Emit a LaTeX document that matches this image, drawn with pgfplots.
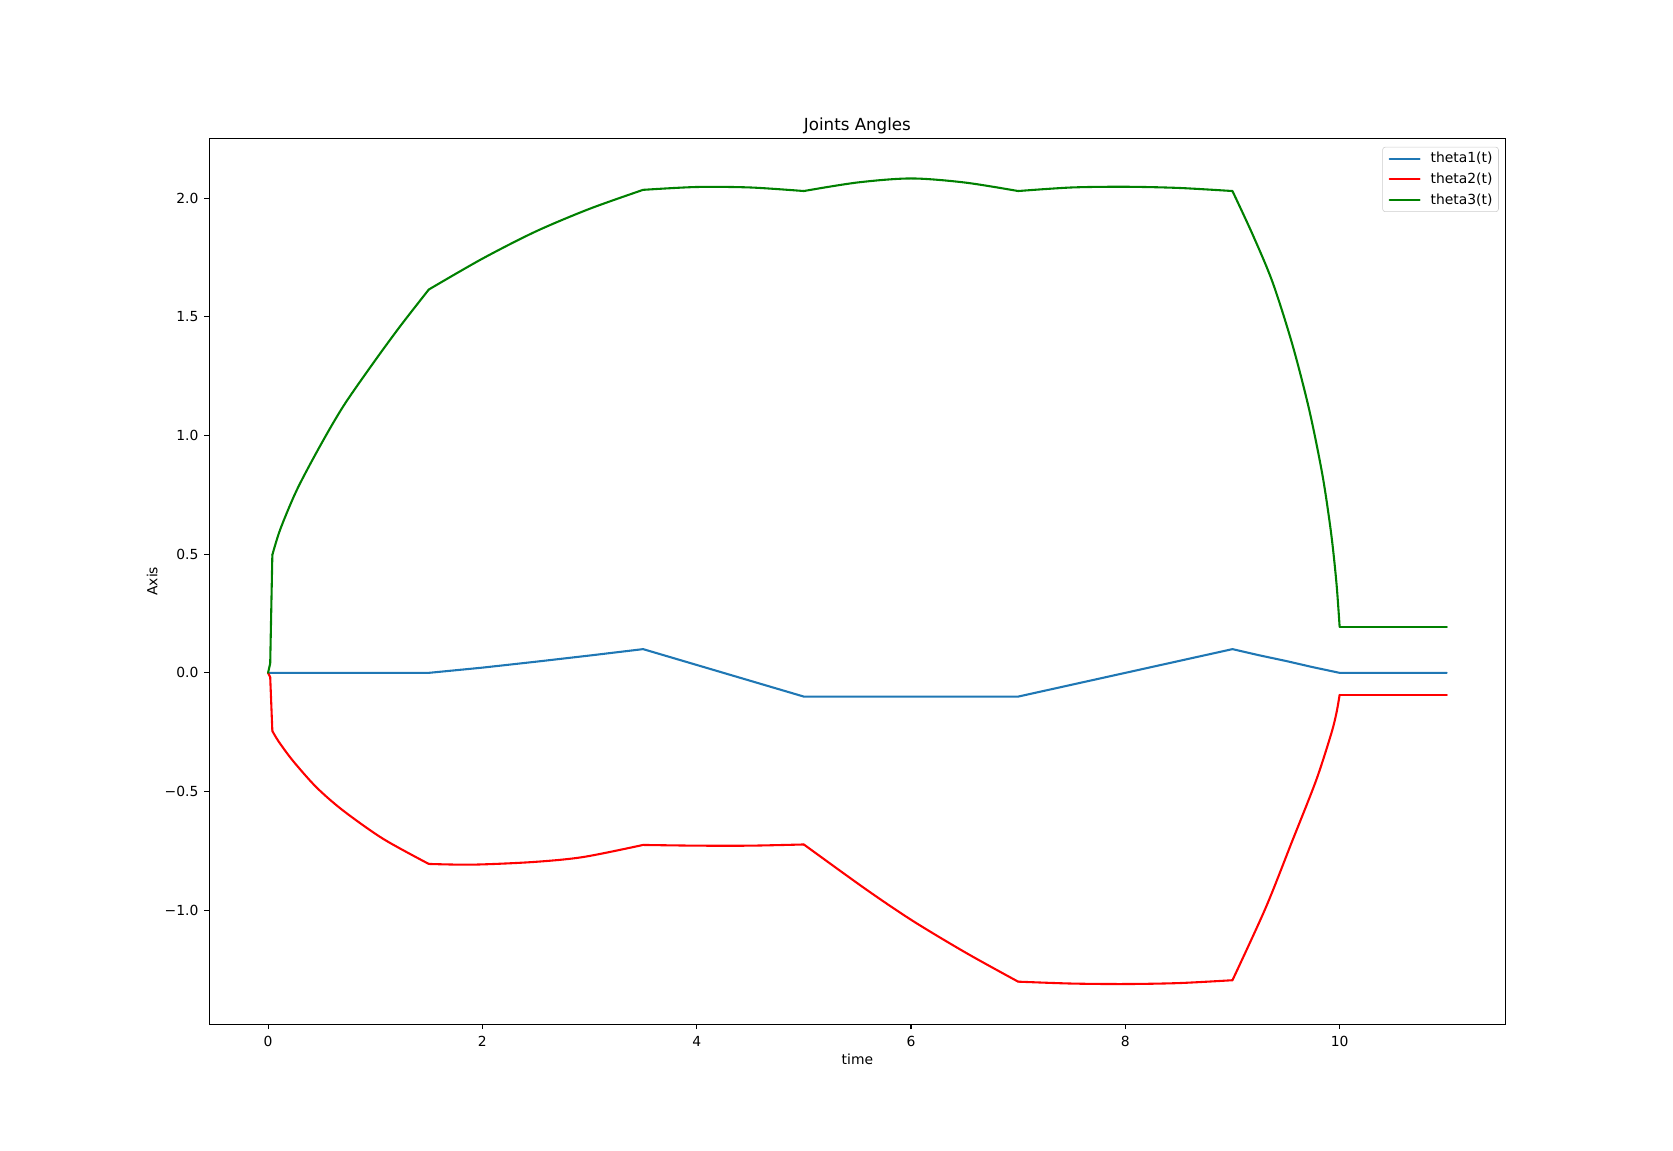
\documentclass[border=0pt]{standalone}
\usepackage{pgfplots}
\pgfplotsset{compat=1.18}
\usepackage{fontspec}
\setmainfont{DejaVu Sans}
\definecolor{tabblue}{HTML}{1F77B4}
\definecolor{mplred}{HTML}{FF0000}
\definecolor{mplgreen}{HTML}{008000}
\begin{document}
\begin{tikzpicture}
\path[use as bounding box] (0,0) rectangle (1204.56pt,828.72pt);
\begin{axis}[
  at={(150.57pt,91.16pt)}, anchor=south west,
  scale only axis, width=933.53pt, height=638.11pt,
  xmin=-0.55, xmax=11.55, ymin=-1.481, ymax=2.253,
  axis line style={line width=0.8pt, black},
  tick align=outside, xtick pos=lower, ytick pos=left,
  major tick length=3.5pt,
  every tick/.style={line width=0.8pt, black},
  xtick={0,2,4,6,8,10},
  xticklabels={0,2,4,6,8,10},
  ytick={-1,-0.5,0,0.5,1,1.5,2},
  yticklabels={−1.0,−0.5,0.0,0.5,1.0,1.5,2.0},
  xticklabel style={anchor=base, yshift=-12.6pt, font=\fontsize{10}{12}\selectfont},
  yticklabel style={anchor=east, inner sep=0pt, xshift=-4pt, font=\fontsize{10}{12}\selectfont},
  title={Joints Angles},
  every axis title/.style={at={(axis description cs:0.5,1)}, anchor=base, yshift=5.5pt, font=\fontsize{12}{14.4}\selectfont},
  xlabel={time},
  every axis x label/.style={at={(axis description cs:0.5,0)}, anchor=base, yshift=-29pt, font=\fontsize{10}{12}\selectfont},
  ylabel={Axis},
  every axis y label/.style={at={(axis description cs:0,0.5)}, anchor=base, xshift=-37.2pt, rotate=90, font=\fontsize{10}{12}\selectfont},
  legend image code/.code={\draw[#1] (0pt,0pt) -- (21.6pt,0pt);},
  legend cell align=left,
  legend style={at={(axis description cs:1,1)}, anchor=north east, xshift=-5pt, yshift=-6.3pt,
    draw=black!20, rounded corners=2pt, fill=white,
    font=\fontsize{10}{12}\selectfont,
    inner xsep=4.3pt, inner ysep=3.5pt, row sep=5.5pt, column sep=0pt,
    nodes={inner xsep=0pt, inner ysep=0pt, text height=7.5pt, text depth=2pt}},
  every axis plot/.append style={line width=1.5pt, line join=round, line cap=round},
]
% theta1
\addplot[tabblue] coordinates {
(0,0) (0.04,0) (1.5,0) (2.0,0.022) (2.5,0.047) (3.0,0.073) (3.5,0.1)
(5.0,-0.1) (7.0,-0.1) (9.0,0.1) (9.25,0.074) (9.5,0.05) (9.75,0.024) (10.0,0) (11.0,0)
};
\addlegendentry{\hspace{7.2pt}theta1(t)}
% theta2
\addplot[mplred] coordinates {
(0,0) (0.02,-0.018) (0.04,-0.245)
};
\addlegendentry{\hspace{7.2pt}theta2(t)}
\addplot[mplred, smooth, forget plot] coordinates {
(0.04,-0.245) (0.1,-0.29) (0.233,-0.371) (0.451,-0.482) (0.70,-0.58) (1.073,-0.699) (1.5,-0.805)
};
\addplot[mplred, smooth, forget plot] coordinates {
(1.5,-0.805) (1.91,-0.808) (2.47,-0.797) (2.94,-0.776) (3.5,-0.725)
};
\addplot[mplred, smooth, forget plot] coordinates {
(3.5,-0.725) (4.0,-0.728) (4.5,-0.728) (5.0,-0.723)
};
\addplot[mplred, smooth, forget plot] coordinates {
(5.0,-0.723) (5.58,-0.912) (6.017,-1.045) (6.515,-1.18) (7.0,-1.301)
};
\addplot[mplred, smooth, forget plot] coordinates {
(7.0,-1.301) (7.5,-1.309) (8.0,-1.311) (8.5,-1.307) (9.0,-1.295)
};
\addplot[mplred, smooth, forget plot] coordinates {
(9.0,-1.295) (9.31,-0.99) (9.56,-0.706) (9.78,-0.454) (9.92,-0.259) (9.97,-0.17) (10.0,-0.093)
};
\addplot[mplred, forget plot] coordinates {
(10.0,-0.093) (11.0,-0.093)
};
% theta3
\addplot[mplgreen] coordinates {
(0,0) (0.02,0.04) (0.04,0.497)
};
\addlegendentry{\hspace{7.2pt}theta3(t)}
\addplot[mplgreen, smooth, forget plot] coordinates {
(0.04,0.497) (0.115,0.606) (0.27,0.772) (0.488,0.958) (0.706,1.126) (0.986,1.308) (1.234,1.461) (1.5,1.615)
};
\addplot[mplgreen, smooth, forget plot] coordinates {
(1.5,1.615) (2.0,1.745) (2.5,1.86) (3.0,1.955) (3.5,2.035)
};
\addplot[mplgreen, smooth, forget plot] coordinates {
(3.5,2.035) (4.0,2.047) (4.5,2.045) (5.0,2.03)
};
\addplot[mplgreen, smooth, forget plot] coordinates {
(5.0,2.03) (5.5,2.066) (6.0,2.083) (6.5,2.066) (7.0,2.03)
};
\addplot[mplgreen, smooth, forget plot] coordinates {
(7.0,2.03) (7.5,2.045) (8.0,2.048) (8.5,2.043) (9.0,2.03)
};
\addplot[mplgreen, smooth, forget plot] coordinates {
(9.0,2.03) (9.19,1.845) (9.375,1.645) (9.56,1.382) (9.717,1.107) (9.84,0.833) (9.92,0.591) (9.97,0.381) (10.0,0.195)
};
\addplot[mplgreen, forget plot] coordinates {
(10.0,0.195) (11.0,0.195)
};
\end{axis}
\end{tikzpicture}
\end{document}
